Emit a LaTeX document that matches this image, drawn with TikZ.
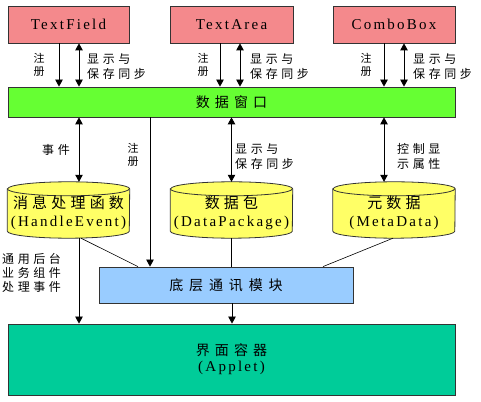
\documentclass[tikz,border=0pt]{standalone}
\usepackage{fontspec}
\setmainfont{Liberation Serif}
\newfontfamily\cjk{Noto Sans CJK SC}
\usetikzlibrary{arrows.meta}
\definecolor{pinkfill}{HTML}{F4898C}
\definecolor{greenfill}{HTML}{66FF33}
\definecolor{yellowfill}{HTML}{FFFF66}
\definecolor{bluefill}{HTML}{99CCFF}
\definecolor{tealfill}{HTML}{00CC99}
\definecolor{edge}{HTML}{333333}
\newcommand{\zhf}[2]{\cjk\fontsize{#1}{#2}\selectfont\addfontfeature{LetterSpace=30}}
\newcommand{\zhbig}{\cjk\fontsize{14}{16}\selectfont\addfontfeature{LetterSpace=36}}
\newcommand{\enf}{\rmfamily\fontsize{15}{16}\selectfont\addfontfeature{LetterSpace=15}}
\begin{document}
\begin{tikzpicture}[x=1pt,y=1pt,
  box/.style={draw=edge,line width=0.8pt,inner sep=0pt,anchor=center},
  cylbox/.style={inner sep=0pt,minimum width=122pt,minimum height=56pt},
  cyltext/.style={align=center,inner sep=0pt,font={\fontsize{15}{18}\selectfont}},
  lbl/.style={align=left,inner sep=0pt,anchor=west,font={\zhf{12}{15}}},
  vlbl/.style={align=center,inner sep=0pt,font={\cjk\fontsize{11}{13}\selectfont}},
  arr/.style={line width=0.8pt,-{Triangle[length=7pt,width=7.5pt]}},
  darr/.style={line width=0.8pt,{Triangle[length=7pt,width=7.5pt]}-{Triangle[length=7pt,width=7.5pt]}},
  ln/.style={line width=0.6pt},
  cylshape/.style={draw=edge,line width=0.8pt,fill=yellowfill}
]
\useasboundingbox (0,0) rectangle (481,401);
% top boxes
\node[box,fill=pinkfill,minimum width=121pt,minimum height=37pt] (tf) at (68.5,376.5) {\enf TextField};
\node[box,fill=pinkfill,minimum width=123pt,minimum height=37pt] (ta) at (231.5,376.5) {\enf TextArea};
\node[box,fill=pinkfill,minimum width=122pt,minimum height=37pt] (cb) at (394,376.5) {\enf ComboBox};
% data window
\node[box,fill=greenfill,minimum width=447pt,minimum height=30pt] (dw) at (231.5,299) {\zhbig 数据窗口};
% cylinders
\node[cylbox] (c1) at (68.5,191) {};
\node[cylbox] (c2) at (231.5,191) {};
\node[cylbox] (c3) at (394,191) {};
\foreach \c in {c1,c2,c3}{
  \draw[cylshape] ([yshift=-7]\c.north west) -- ([yshift=7]\c.south west)
    arc[start angle=180,end angle=360,x radius=61,y radius=7]
    -- ([yshift=-7]\c.north east)
    arc[start angle=0,end angle=180,x radius=61,y radius=7] -- cycle;
  \draw[edge,line width=0.8pt] ([yshift=-7]\c.north west)
    arc[start angle=180,end angle=360,x radius=61,y radius=7];
}
\node[cyltext] (c1t) at ([yshift=-3]c1.center) {{\zhf{15}{18}\addfontfeature{LetterSpace=28}消息处理函数}\\{\enf (HandleEvent)}};
\node[cyltext] (c2t) at ([yshift=-3]c2.center) {{\zhf{15}{18}\addfontfeature{LetterSpace=28}数据包}\\{\enf (DataPackage)}};
\node[cyltext] (c3t) at ([yshift=-3]c3.center) {{\zhf{15}{18}\addfontfeature{LetterSpace=28}元数据}\\{\enf (MetaData)}};
% bottom comm module
\node[box,fill=bluefill,minimum width=254pt,minimum height=36pt] (bm) at (226,116) {\cjk\fontsize{14}{16}\selectfont\addfontfeature{LetterSpace=42}底层通讯模块};
% applet
\node[box,fill=tealfill,minimum width=447pt,minimum height=71pt,align=center,font={\fontsize{15}{16}\selectfont}] (ap) at (231.5,41.5)
  {{\zhbig 界面容器}\\{\enf (Applet)}};
% top arrows
\draw[arr] ([xshift=-9.5]tf.south) -- ([xshift=-9.5]tf.south |- dw.north);
\draw[darr] ([xshift=10.5]tf.south) -- ([xshift=10.5]tf.south |- dw.north);
\draw[arr] ([xshift=-11.5]ta.south) -- ([xshift=-11.5]ta.south |- dw.north);
\draw[darr] ([xshift=8.5]ta.south) -- ([xshift=8.5]ta.south |- dw.north);
\draw[arr] ([xshift=-10]cb.south) -- ([xshift=-10]cb.south |- dw.north);
\draw[darr] ([xshift=10]cb.south) -- ([xshift=10]cb.south |- dw.north);
% top labels
\node[vlbl] (r1) at (39,336) {注\\册};
\node[vlbl] (r2) at (203,336) {注\\册};
\node[vlbl] (r3) at (366,336) {注\\册};
\node[lbl] (s1) at (87,334.5) {显示与\\保存同步};
\node[lbl] (s2) at (250,334.5) {显示与\\保存同步};
\node[lbl] (s3) at (413,334.5) {显示与\\保存同步};
% middle arrows
\draw[darr] ([xshift=10.5]c1.north |- dw.south) -- ([xshift=10.5]c1.north);
\draw[arr] ([xshift=-76]bm.north |- dw.south) -- ([xshift=-76]bm.north);
\draw[darr] (c2.north |- dw.south) -- (c2.north);
\draw[darr] ([xshift=-10]c3.north |- dw.south) -- ([xshift=-10]c3.north);
\node[lbl,font={\zhf{12}{15}}] (ev) at (42,251) {事件};
\node[vlbl] (r4) at (133,246) {注\\册};
\node[lbl] (s4) at (235,244.5) {显示与\\保存同步};
\node[lbl] (s5) at (397,244.5) {控制显\\示属性};
% lower connectors
\draw[arr] ([xshift=10.5]c1.south) -- ([xshift=10.5]c1.south |- ap.north);
\draw[ln] ([xshift=12.5]c1.south) -- ([xshift=-88]bm.north);
\draw[ln] (c2.south) -- (c2.south |- bm.north);
\draw[ln] ([xshift=-1]c3.south) -- ([xshift=97]bm.north);
\draw[arr] ([xshift=6]bm.south) -- ([xshift=6]bm.south |- ap.north);
\node[lbl,font={\zhf{12}{14}}] (gy) at (2,128.5) {通用后台\\业务组件\\处理事件};
\end{tikzpicture}
\end{document}
